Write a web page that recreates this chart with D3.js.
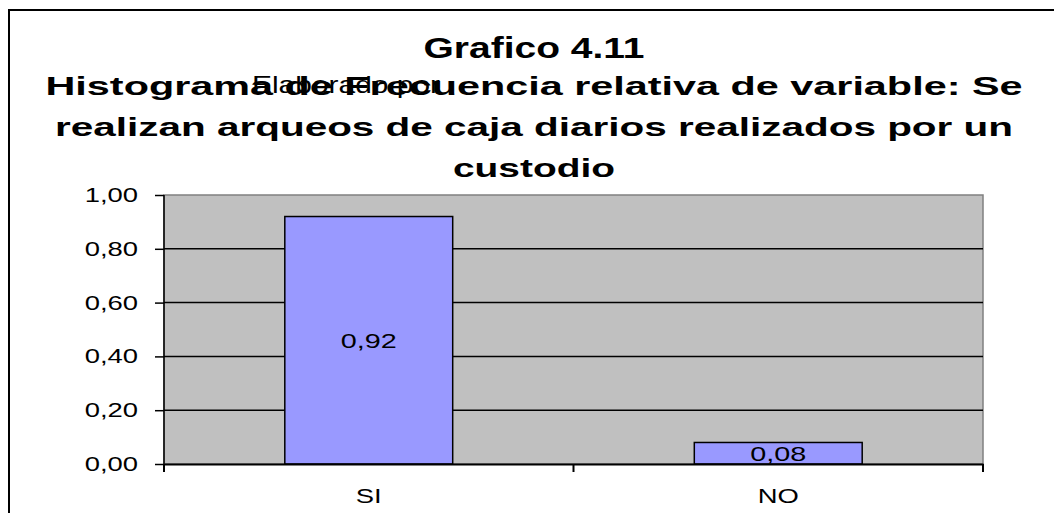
<!DOCTYPE html>
<html>
<head>
<meta charset="utf-8">
<script src="https://cdn.jsdelivr.net/npm/d3@7"></script>
<style>
body { margin: 0; background: #fff; }
text { font-family: "Liberation Sans", Arial, sans-serif; fill: #000; }
</style>
</head>
<body>
<div id="chart"></div>
<script>
// data
var categories = ["SI", "NO"];
var values = [0.92, 0.08];
var yTicks = [0, 0.2, 0.4, 0.6, 0.8, 1.0];
var titleLines = ["Grafico 4.11",
  "Histograma de Frecuencia relativa de variable: Se",
  "realizan arqueos de caja diarios realizados por un",
  "custodio"];
var overlayText = "Elaborado por";

var W = 1054, H = 513;
var margin = {top: 195, left: 164, right: 71, bottom: 49},
    width = W - margin.left - margin.right,
    height = H - margin.top - margin.bottom;
var sx = 1.37; // text in the original is stretched horizontally

var es = d3.formatLocale({decimal: ",", thousands: ".", grouping: [3], currency: ["", ""]});
var fmt = es.format(".2f");

var svgRoot = d3.select("#chart").append("svg")
  .attr("width", W).attr("height", H);

// outer frame
svgRoot.append("rect")
  .attr("x", 9).attr("y", 10)
  .attr("width", W + 20).attr("height", H + 20)
  .attr("fill", "#fff").attr("stroke", "#000").attr("stroke-width", 2);

function stretch(sel, k) {
  sel.each(function() {
    var len = this.getComputedTextLength();
    d3.select(this).attr("textLength", len * k).attr("lengthAdjust", "spacingAndGlyphs");
  });
}

// titles
var tl = [
  {y: 58, size: 29, w: 221},
  {y: 95, size: 26, w: 977},
  {y: 136, size: 26, w: 958},
  {y: 177, size: 26, w: 162}
];
titleLines.forEach(function(t, i) {
  svgRoot.append("text")
    .attr("x", 534).attr("y", tl[i].y)
    .attr("text-anchor", "middle")
    .style("font-weight", "bold")
    .style("font-size", tl[i].size + "px")
    .attr("textLength", tl[i].w).attr("lengthAdjust", "spacingAndGlyphs")
    .text(t);
});
svgRoot.append("text")
  .attr("x", 252).attr("y", 93)
  .style("font-size", "24px")
  .attr("textLength", 188).attr("lengthAdjust", "spacingAndGlyphs")
  .text(overlayText);

var svg = svgRoot.append("g")
  .attr("transform", "translate(" + margin.left + "," + margin.top + ")");

var x = d3.scaleBand().domain(categories).range([0, width]).paddingInner(0).paddingOuter(0);
var y = d3.scaleLinear().domain([0, 1]).range([height, 0]);

// plot area
svg.append("rect")
  .attr("x", 0).attr("y", 0).attr("width", width).attr("height", height)
  .attr("fill", "#c0c0c0").attr("stroke", "#808080").attr("stroke-width", 1.5);

// gridlines
svg.append("g").selectAll("line")
  .data(yTicks.filter(function(d) { return d > 0 && d < 1; }))
  .enter().append("line")
  .attr("x1", 0).attr("x2", width)
  .attr("y1", function(d) { return y(d); }).attr("y2", function(d) { return y(d); })
  .attr("stroke", "#000").attr("stroke-width", 1.5);

// bars
var barW = x.bandwidth() * 0.41;
svg.append("g").selectAll("rect")
  .data(values)
  .enter().append("rect")
  .attr("x", function(d, i) { return x(categories[i]) + x.bandwidth() / 2 - barW / 2; })
  .attr("y", function(d) { return y(d); })
  .attr("width", barW)
  .attr("height", function(d) { return height - y(d); })
  .attr("fill", "#9999ff").attr("stroke", "#000").attr("stroke-width", 1.5);

// value labels
svg.append("g").selectAll("text")
  .data(values)
  .enter().append("text")
  .attr("class", "val")
  .attr("x", function(d, i) { return x(categories[i]) + x.bandwidth() / 2; })
  .attr("y", function(d) { return y(d / 2); })
  .attr("dy", "0.35em")
  .attr("text-anchor", "middle")
  .style("font-size", "21px")
  .text(function(d) { return fmt(d); });

// y axis
var yAxis = svg.append("g")
  .call(d3.axisLeft(y).tickValues(yTicks).tickFormat(fmt).tickSize(9).tickPadding(17));
yAxis.select(".domain").attr("stroke", "#000").attr("stroke-width", 1.5)
  .attr("d", "M0,0V" + (height + 6));
yAxis.selectAll(".tick line").attr("stroke", "#000").attr("stroke-width", 1.5);
yAxis.selectAll("text").style("font-size", "20px").attr("fill", "#000");

// x axis
var xAxis = svg.append("g")
  .attr("transform", "translate(0," + height + ")")
  .call(d3.axisBottom(x).tickSize(0).tickPadding(25));
xAxis.select(".domain").attr("stroke", "#000").attr("stroke-width", 2);
xAxis.selectAll("text").style("font-size", "20px").attr("fill", "#000");
// boundary ticks between categories
xAxis.append("g").selectAll("line")
  .data(categories.concat(["end"]))
  .enter().append("line")
  .attr("x1", function(d, i) { return i * x.bandwidth(); })
  .attr("x2", function(d, i) { return i * x.bandwidth(); })
  .attr("y1", 0).attr("y2", 8)
  .attr("stroke", "#000").attr("stroke-width", 2);

stretch(svg.selectAll("text"), sx);
</script>
</body>
</html>
